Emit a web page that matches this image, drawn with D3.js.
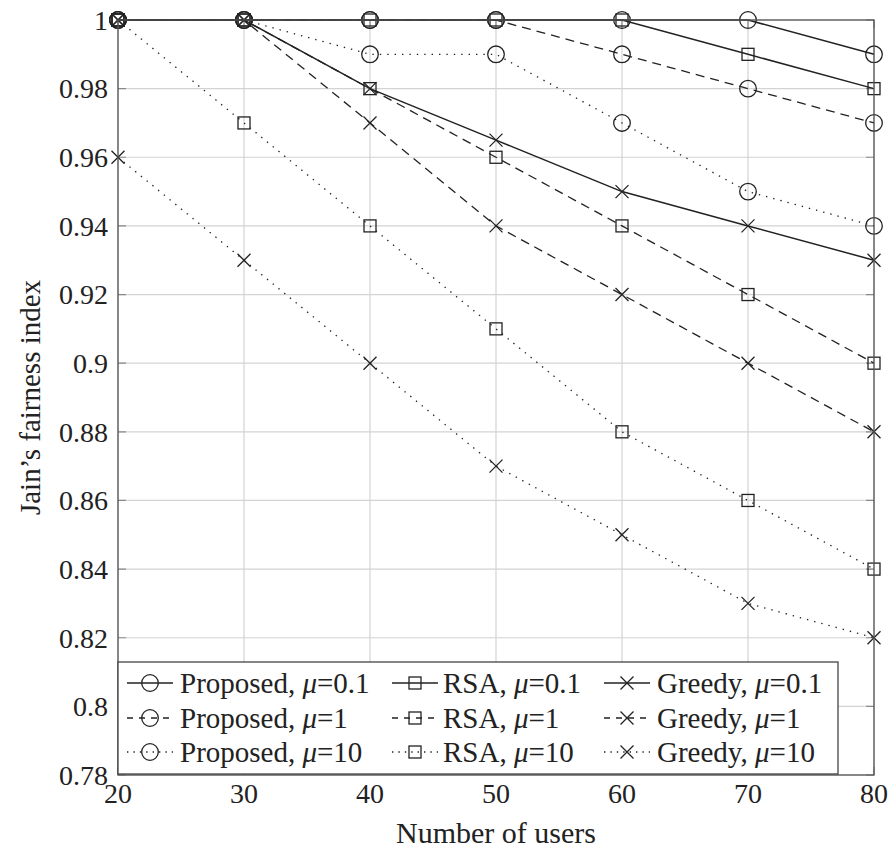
<!DOCTYPE html>
<html>
<head>
<meta charset="utf-8">
<script src="https://cdn.jsdelivr.net/npm/d3@7"></script>
<style>
  body { margin: 0; background: #fff; }
</style>
</head>
<body>
<div id="chart"></div>
<script>
const users = [20, 30, 40, 50, 60, 70, 80];

const proposed01 = [1, 1, 1, 1, 1, 1, 0.99];
const proposed1 = [1, 1, 1, 1, 0.99, 0.98, 0.97];
const proposed10 = [1, 1, 0.99, 0.99, 0.97, 0.95, 0.94];
const rsa01 = [1, 1, 1, 1, 1, 0.99, 0.98];
const rsa1 = [1, 1, 0.98, 0.96, 0.94, 0.92, 0.90];
const rsa10 = [1, 0.97, 0.94, 0.91, 0.88, 0.86, 0.84];
const greedy01 = [1, 1, 0.98, 0.965, 0.95, 0.94, 0.93];
const greedy1 = [1, 1, 0.97, 0.94, 0.92, 0.90, 0.88];
const greedy10 = [0.96, 0.93, 0.90, 0.87, 0.85, 0.83, 0.82];

const yTicks = [0.78, 0.8, 0.82, 0.84, 0.86, 0.88, 0.9, 0.92, 0.94, 0.96, 0.98, 1];
const xTicks = [20, 30, 40, 50, 60, 70, 80];

// legend order: row by row, three columns
const series = [
  {name: 'Proposed', mu: '0.1', values: proposed01, marker: 'circle', dash: null},
  {name: 'RSA', mu: '0.1', values: rsa01, marker: 'square', dash: null},
  {name: 'Greedy', mu: '0.1', values: greedy01, marker: 'cross', dash: null},
  {name: 'Proposed', mu: '1', values: proposed1, marker: 'circle', dash: 'dashed'},
  {name: 'RSA', mu: '1', values: rsa1, marker: 'square', dash: 'dashed'},
  {name: 'Greedy', mu: '1', values: greedy1, marker: 'cross', dash: 'dashed'},
  {name: 'Proposed', mu: '10', values: proposed10, marker: 'circle', dash: 'dotted'},
  {name: 'RSA', mu: '10', values: rsa10, marker: 'square', dash: 'dotted'},
  {name: 'Greedy', mu: '10', values: greedy10, marker: 'cross', dash: 'dotted'},
];

const width = 893;
const height = 856;
const margin = {top: 20, right: 19, bottom: 81, left: 118};
const font = "'Liberation Serif', 'DejaVu Serif', serif";

const x = d3.scaleLinear()
  .domain([20, 80])
  .range([margin.left, width - margin.right]);

const y = d3.scaleLinear()
  .domain([0.78, 1])
  .range([height - margin.bottom, margin.top]);

const dashes = {dashed: '9,6', dotted: '1.4,6'};

const svg = d3.select('#chart').append('svg')
  .attr('width', width)
  .attr('height', height)
  .attr('font-family', font)
  .style('font-family', font);

// grid
svg.append('g')
  .selectAll('line')
  .data(xTicks)
  .join('line')
  .attr('x1', d => x(d)).attr('x2', d => x(d))
  .attr('y1', y(0.78)).attr('y2', y(1))
  .attr('stroke', '#d3d3d3').attr('stroke-width', 1.2);

svg.append('g')
  .selectAll('line')
  .data(yTicks)
  .join('line')
  .attr('x1', x(20)).attr('x2', x(80))
  .attr('y1', d => y(d)).attr('y2', d => y(d))
  .attr('stroke', '#d3d3d3').attr('stroke-width', 1.2);

// inner ticks on all four sides
svg.append('g')
  .selectAll('path')
  .data(yTicks)
  .join('path')
  .attr('d', d => `M${x(20)},${y(d)}h8M${x(80)},${y(d)}h-8`)
  .attr('stroke', '#8a8a8a').attr('stroke-width', 1.2);

svg.append('g')
  .selectAll('path')
  .data(xTicks)
  .join('path')
  .attr('d', d => `M${x(d)},${y(0.78)}v-8M${x(d)},${y(1)}v8`)
  .attr('stroke', '#8a8a8a').attr('stroke-width', 1.2);

const drawMarker = (g, type, cx, cy) => {
  if (type === 'circle') {
    g.append('circle').attr('cx', cx).attr('cy', cy).attr('r', 8.3)
      .attr('fill', 'none').attr('stroke', '#222').attr('stroke-width', 1.3);
  } else if (type === 'square') {
    g.append('rect').attr('x', cx - 6).attr('y', cy - 6).attr('width', 12).attr('height', 12)
      .attr('fill', 'none').attr('stroke', '#222').attr('stroke-width', 1.3);
  } else {
    g.append('path').attr('d', `M${cx - 6.5},${cy - 6.5}L${cx + 6.5},${cy + 6.5}M${cx - 6.5},${cy + 6.5}L${cx + 6.5},${cy - 6.5}`)
      .attr('fill', 'none').attr('stroke', '#222').attr('stroke-width', 1.3);
  }
};

const line = d3.line()
  .x((d, i) => x(users[i]))
  .y(d => y(d));

const plot = svg.append('g');
series.forEach(s => {
  plot.append('path')
    .attr('d', line(s.values))
    .attr('fill', 'none')
    .attr('stroke', '#222')
    .attr('stroke-width', s.dash ? 1.3 : 1.5)
    .attr('stroke-dasharray', s.dash ? dashes[s.dash] : null);
  const mg = plot.append('g');
  s.values.forEach((v, i) => drawMarker(mg, s.marker, x(users[i]), y(v)));
});

// frame
svg.append('rect')
  .attr('x', x(20)).attr('y', y(1))
  .attr('width', x(80) - x(20)).attr('height', y(0.78) - y(1))
  .attr('fill', 'none').attr('stroke', '#555').attr('stroke-width', 1.3);

// axis labels
svg.append('g')
  .selectAll('text')
  .data(yTicks)
  .join('text')
  .attr('x', x(20) - 10)
  .attr('y', d => y(d))
  .attr('dy', '0.35em')
  .attr('text-anchor', 'end')
  .attr('font-size', 28)
  .attr('fill', '#222')
  .text(d => d3.format('')(d));

svg.append('g')
  .selectAll('text')
  .data(xTicks)
  .join('text')
  .attr('x', d => x(d))
  .attr('y', y(0.78) + 28)
  .attr('text-anchor', 'middle')
  .attr('font-size', 28)
  .attr('fill', '#222')
  .text(d => d);

svg.append('text')
  .attr('x', (x(20) + x(80)) / 2)
  .attr('y', 843)
  .attr('text-anchor', 'middle')
  .attr('font-size', 30)
  .attr('fill', '#222')
  .text('Number of users');

svg.append('text')
  .attr('transform', `translate(40,${(y(0.78) + y(1)) / 2}) rotate(-90)`)
  .attr('text-anchor', 'middle')
  .attr('font-size', 29)
  .attr('fill', '#222')
  .text('Jain\u2019s fairness index');

// legend
const legend = svg.append('g');
legend.append('rect')
  .attr('x', 118).attr('y', 662).attr('width', 720).attr('height', 112)
  .attr('fill', '#fff').attr('stroke', '#444').attr('stroke-width', 1.3);

const colSym = [150, 415, 627];
const colText = [180, 443, 657];
const rowY = [683, 718, 752];
const legendDash = {dashed: '6,6', dotted: '1.4,5'};

series.forEach((s, k) => {
  const col = k % 3;
  const row = Math.floor(k / 3);
  const cx = colSym[col];
  const cy = rowY[row];
  const g = legend.append('g');
  g.append('line')
    .attr('x1', cx - 23).attr('x2', cx + 23)
    .attr('y1', cy).attr('y2', cy)
    .attr('stroke', '#222')
    .attr('stroke-width', s.dash ? 1.3 : 1.5)
    .attr('stroke-dasharray', s.dash ? legendDash[s.dash] : null);
  drawMarker(g, s.marker, cx, cy);
  const t = g.append('text')
    .attr('x', colText[col]).attr('y', cy)
    .attr('dy', '0.35em')
    .attr('font-size', 29)
    .attr('fill', '#222');
  t.append('tspan').text(`${s.name}, `);
  t.append('tspan').attr('font-style', 'italic').text('\u03bc');
  t.append('tspan').text(`=${s.mu}`);
});
</script>
</body>
</html>
